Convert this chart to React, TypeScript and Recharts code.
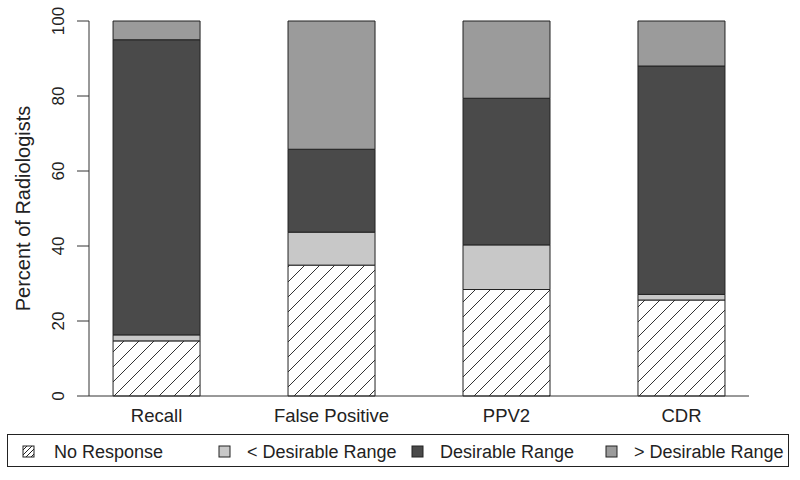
import React from 'react';
import { BarChart, Bar, XAxis, YAxis, Legend } from 'recharts';

const categories = ['Recall', 'False Positive', 'PPV2', 'CDR'];
const noResponse = [14.7, 34.9, 28.4, 25.6];
const belowRange = [1.6, 8.8, 11.9, 1.5];
const desirable = [78.7, 22.1, 39.1, 60.9];
const aboveRange = [5.0, 34.2, 20.6, 12.0];
const yTicks = [0, 20, 40, 60, 80, 100];
const seriesNames = ['No Response', '< Desirable Range', 'Desirable Range', '> Desirable Range'];
const seriesColors = ['url(#hatch)', '#c8c8c8', '#4a4a4a', '#9b9b9b'];

const data = categories.map((c, i) => ({
  name: c,
  pos: i + 1,
  noResponse: noResponse[i],
  belowRange: belowRange[i],
  desirable: desirable[i],
  aboveRange: aboveRange[i],
}));

const FONT = '"Liberation Sans", Arial, Helvetica, sans-serif';
const INK = '#222';

const YTick = (props: any) => {
  const { x, y, payload } = props;
  const bx = x - 11.5;
  return (
    <text x={bx} y={y} transform={`rotate(-90, ${bx}, ${y})`} textAnchor="middle"
      fontSize={17} fontFamily={FONT} fill={INK}>
      {payload.value}
    </text>
  );
};

const XTick = (props: any) => {
  const { x, y, payload } = props;
  return (
    <text x={x} y={y + 26} textAnchor="middle" fontSize={18.5} fontFamily={FONT} fill={INK}>
      {categories[payload.value - 1]}
    </text>
  );
};

const legendTextX = [46, 239, 432, 626];
const legendSwatchX = [15, 211, 404, 598];

const LegendBox = () => (
  <div style={{ width: 782, height: 33, boxSizing: 'border-box', border: '1px solid #222', background: '#fff' }}>
    <svg width={780} height={31} style={{ display: 'block' }}>
      <defs>
        <pattern id="hatchLegend" patternUnits="userSpaceOnUse" width={5} height={5}>
          <rect width={5} height={5} fill="#fff" />
          <path d="M0,5 L5,0" stroke="#222" strokeWidth={1} />
        </pattern>
      </defs>
      {seriesNames.map((n, i) => (
        <g key={n}>
          <rect x={legendSwatchX[i]} y={11} width={11} height={11}
            fill={i === 0 ? 'url(#hatchLegend)' : seriesColors[i]} stroke="#222" strokeWidth={1} />
          <text x={legendTextX[i]} y={23} fontSize={18} fontFamily={FONT} fill={INK}>{n}</text>
        </g>
      ))}
    </svg>
  </div>
);

export default function App() {
  return (
    <div style={{ position: 'absolute', left: 0, top: 0, width: 800, height: 480, background: '#fff' }}>
      <BarChart width={800} height={480} data={data}
        margin={{ top: 21, right: 51, bottom: 21, left: 0 }} barGap={0}>
        <defs>
          <pattern id="hatch" patternUnits="userSpaceOnUse" width={15} height={15}>
            <rect width={15} height={15} fill="#fff" />
            <path d="M0,15 L15,0 M-3,3 L3,-3 M12,18 L18,12" stroke="#333" strokeWidth={1} />
          </pattern>
        </defs>
        <XAxis xAxisId="bottom" type="number" dataKey="pos" domain={[0.614, 4.386]} ticks={[1, 2, 3, 4]}
          allowDataOverflow tickLine={false} tickSize={0} tickMargin={0} height={30}
          axisLine={{ stroke: '#333', strokeWidth: 1 }} tick={<XTick />} interval={0} />
        <XAxis xAxisId="top" orientation="top" type="number" dataKey="pos" domain={[0.614, 4.386]}
          allowDataOverflow height={0} tick={false} tickLine={false}
          axisLine={{ stroke: '#333', strokeWidth: 1 }} />
        <YAxis yAxisId="left" domain={[0, 100]} ticks={yTicks} width={89} tickSize={12} tickMargin={2}
          tickLine={{ stroke: '#333' }} axisLine={{ stroke: '#333', strokeWidth: 1 }} tick={<YTick />}
          interval={0}
          label={{ value: 'Percent of Radiologists', angle: -90, position: 'insideLeft', offset: 0,
            content: (p: any) => {
              const vb = p.viewBox;
              const cy = vb.y + vb.height / 2;
              return (
                <text x={30} y={cy} transform={`rotate(-90, 30, ${cy})`} textAnchor="middle"
                  fontSize={20} fontFamily={FONT} fill={INK}>Percent of Radiologists</text>
              );
            } }} />
        <YAxis yAxisId="right" orientation="right" domain={[0, 100]} width={0} tick={false} tickLine={false}
          axisLine={{ stroke: '#333', strokeWidth: 1 }} />
        <Bar xAxisId="bottom" yAxisId="left" dataKey="noResponse" stackId="a" barSize={87}
          fill={seriesColors[0]} stroke="#222" strokeWidth={1} isAnimationActive={false} />
        <Bar xAxisId="bottom" yAxisId="left" dataKey="belowRange" stackId="a" barSize={87}
          fill={seriesColors[1]} stroke="#222" strokeWidth={1} isAnimationActive={false} />
        <Bar xAxisId="bottom" yAxisId="left" dataKey="desirable" stackId="a" barSize={87}
          fill={seriesColors[2]} stroke="#222" strokeWidth={1} isAnimationActive={false} />
        <Bar xAxisId="bottom" yAxisId="left" dataKey="aboveRange" stackId="a" barSize={87}
          fill={seriesColors[3]} stroke="#222" strokeWidth={1} isAnimationActive={false} />
        <Legend verticalAlign="bottom" wrapperStyle={{ left: 7, top: 434, width: 782, height: 33 }}
          content={() => <LegendBox />} />
      </BarChart>
    </div>
  );
}
